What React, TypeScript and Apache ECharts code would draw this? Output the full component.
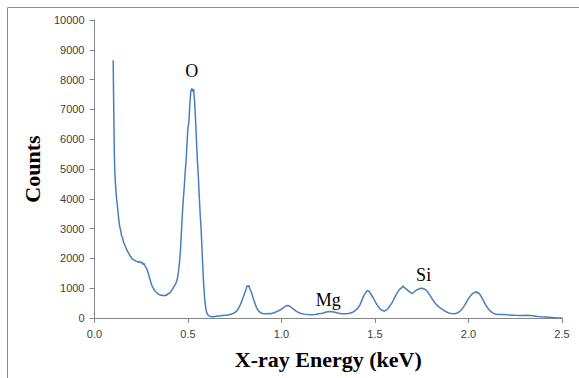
import React, { useEffect, useRef } from "react";
import * as echarts from "echarts";

// Energy (keV) and counts
const energies: number[] = [
  0.1, 0.102, 0.104, 0.106, 0.108, 0.112, 0.116, 0.12, 0.125, 0.13, 0.135, 0.14, 0.145, 0.15, 0.155, 0.16,
  0.165, 0.17, 0.175, 0.18, 0.185, 0.19, 0.195, 0.2, 0.205, 0.21, 0.215, 0.22, 0.225, 0.23, 0.235, 0.24,
  0.245, 0.25, 0.255, 0.26, 0.265, 0.27, 0.275, 0.28, 0.285, 0.29, 0.295, 0.3, 0.305, 0.31, 0.315, 0.32,
  0.325, 0.33, 0.335, 0.34, 0.345, 0.35, 0.355, 0.36, 0.365, 0.37, 0.375, 0.38, 0.385, 0.39, 0.395, 0.4,
  0.405, 0.41, 0.415, 0.42, 0.425, 0.43, 0.435, 0.44, 0.445, 0.45, 0.455, 0.46, 0.465, 0.47, 0.475, 0.48,
  0.485, 0.49, 0.495, 0.5, 0.505, 0.51, 0.515, 0.52, 0.525, 0.53, 0.535, 0.54, 0.545, 0.55, 0.555, 0.56,
  0.565, 0.57, 0.575, 0.58, 0.585, 0.59, 0.595, 0.6, 0.605, 0.61, 0.62, 0.63, 0.64, 0.65, 0.66, 0.67,
  0.68, 0.69, 0.7, 0.71, 0.72, 0.73, 0.74, 0.75, 0.76, 0.77, 0.78, 0.79, 0.8, 0.81, 0.815, 0.82,
  0.825, 0.83, 0.84, 0.85, 0.86, 0.87, 0.88, 0.89, 0.9, 0.91, 0.92, 0.93, 0.94, 0.95, 0.96, 0.97,
  0.98, 0.99, 1.0, 1.01, 1.02, 1.03, 1.04, 1.05, 1.06, 1.07, 1.08, 1.09, 1.1, 1.12, 1.14, 1.16,
  1.18, 1.2, 1.22, 1.24, 1.26, 1.28, 1.3, 1.32, 1.34, 1.36, 1.38, 1.39, 1.4, 1.41, 1.42, 1.43,
  1.44, 1.45, 1.46, 1.465, 1.47, 1.48, 1.49, 1.5, 1.51, 1.52, 1.53, 1.54, 1.55, 1.56, 1.57, 1.58,
  1.59, 1.6, 1.61, 1.62, 1.63, 1.64, 1.65, 1.66, 1.67, 1.68, 1.69, 1.7, 1.71, 1.72, 1.73, 1.74,
  1.75, 1.76, 1.77, 1.78, 1.79, 1.8, 1.81, 1.82, 1.83, 1.84, 1.85, 1.86, 1.87, 1.88, 1.89, 1.9,
  1.91, 1.92, 1.93, 1.94, 1.95, 1.96, 1.97, 1.98, 1.99, 2.0, 2.01, 2.02, 2.03, 2.04, 2.045, 2.05,
  2.06, 2.07, 2.08, 2.09, 2.1, 2.11, 2.12, 2.13, 2.14, 2.15, 2.17, 2.19, 2.21, 2.23, 2.25, 2.27,
  2.29, 2.31, 2.33, 2.35, 2.37, 2.39, 2.41, 2.43, 2.45, 2.47, 2.49, 2.5,
];

const counts: number[] = [
  8650, 7500, 6500, 5600, 5000, 4500, 4150, 3900, 3600, 3300, 3050, 2950, 2750, 2700, 2550, 2480,
  2400, 2330, 2250, 2200, 2150, 2080, 2050, 1990, 1970, 1950, 1930, 1920, 1900, 1890, 1860, 1900,
  1870, 1850, 1880, 1800, 1830, 1750, 1700, 1640, 1560, 1450, 1330, 1230, 1120, 1050, 990, 940,
  900, 870, 840, 810, 790, 775, 760, 770, 750, 760, 745, 770, 760, 790, 830, 820,
  860, 900, 950, 1000, 1060, 1100, 1160, 1250, 1380, 1600, 1900, 2300, 2900, 3500, 4000, 4400,
  4900, 5300, 5900, 6400, 6600, 7200, 7600, 7700, 7600, 7680, 7300, 6700, 6000, 5300, 4800, 4100,
  3500, 3000, 2300, 1600, 1000, 580, 330, 180, 120, 80, 50, 40, 45, 60, 65, 70,
  80, 85, 90, 95, 110, 125, 150, 180, 230, 320, 450, 600, 780, 950, 1080, 1060,
  1090, 1000, 850, 640, 450, 300, 220, 170, 150, 145, 140, 150, 145, 160, 175, 200,
  230, 260, 300, 350, 390, 420, 410, 370, 320, 270, 220, 190, 160, 130, 115, 110,
  120, 140, 160, 200, 220, 200, 165, 140, 140, 150, 190, 230, 280, 340, 450, 600,
  750, 850, 920, 910, 880, 780, 680, 560, 450, 360, 290, 250, 235, 260, 320, 410,
  500, 620, 740, 860, 950, 1000, 1070, 1000, 960, 900, 850, 820, 880, 930, 960, 990,
  1000, 980, 950, 890, 800, 700, 600, 510, 440, 380, 330, 290, 250, 210, 180, 160,
  150, 145, 150, 170, 200, 260, 340, 430, 540, 650, 740, 810, 850, 880, 840, 860,
  800, 700, 580, 460, 360, 280, 210, 170, 140, 125, 115, 120, 105, 95, 90, 88,
  85, 90, 80, 65, 50, 40, 35, 25, 15, 8, 3, 0,
];

const peakLabels: { text: string; x: number; y: number }[] = [
  { text: "O", x: 0.52, y: 8300 },
  { text: "Mg", x: 1.25, y: 600 },
  { text: "Si", x: 1.76, y: 1450 },
];

const xTitle = "X-ray Energy (keV)";
const yTitle = "Counts";

export default function App() {
  const ref = useRef<HTMLDivElement>(null);

  useEffect(() => {
    if (!ref.current) return;
    const chart = echarts.init(ref.current, undefined, { renderer: "svg" });
    const data = energies.map((e, i) => [e, counts[i]]);

    const option: any = {
      animation: false,
      backgroundColor: "#ffffff",
      grid: { left: 94.5, right: 17, top: 20, bottom: 60, containLabel: false },
      xAxis: {
        type: "value",
        min: 0,
        max: 2.5,
        interval: 0.5,
        name: xTitle,
        nameLocation: "middle",
        nameGap: 30,
        nameTextStyle: {
          fontFamily: "Liberation Serif",
          fontWeight: "bold",
          fontSize: 22,
          color: "#000000",
        },
        axisLine: { show: true, onZero: false, lineStyle: { color: "#868686", width: 1 } },
        axisTick: { show: true, inside: false, length: 5, lineStyle: { color: "#868686" } },
        splitLine: { show: false },
        axisLabel: {
          margin: 10,
          fontFamily: "Liberation Sans",
          fontSize: 11,
          color: "#404040",
          formatter: (v: number) => v.toFixed(1),
        },
      },
      yAxis: {
        type: "value",
        min: 0,
        max: 10000,
        interval: 1000,
        name: yTitle,
        nameLocation: "middle",
        nameGap: 50,
        nameRotate: 90,
        nameTextStyle: {
          fontFamily: "Liberation Serif",
          fontWeight: "bold",
          fontSize: 22,
          color: "#000000",
        },
        axisLine: { show: true, lineStyle: { color: "#868686", width: 1 } },
        axisTick: { show: true, inside: false, length: 5, lineStyle: { color: "#868686" } },
        splitLine: { show: false },
        axisLabel: {
          margin: 10,
          fontFamily: "Liberation Sans",
          fontSize: 11,
          color: "#404040",
          formatter: (v: number) => String(v),
        },
      },
      series: [
        {
          type: "line",
          data,
          showSymbol: false,
          symbol: "none",
          smooth: false,
          lineStyle: { color: "#4A7EBB", width: 1.5 },
          markPoint: {
            symbol: "rect",
            symbolSize: 1,
            itemStyle: { color: "transparent" },
            label: {
              show: true,
              position: "inside",
              fontFamily: "Liberation Serif",
              fontSize: 18,
              color: "#000000",
              formatter: (p: any) => p.name,
            },
            data: peakLabels.map((p) => ({ name: p.text, coord: [p.x, p.y] })),
          },
        },
      ],
      graphic: [
        {
          type: "line",
          shape: { x1: 7.5, y1: 7.5, x2: 579, y2: 7.5 },
          style: { stroke: "#8c8c8c", lineWidth: 1 },
        },
        {
          type: "line",
          shape: { x1: 7.5, y1: 7.5, x2: 7.5, y2: 378 },
          style: { stroke: "#8c8c8c", lineWidth: 1 },
        },
      ],
    };

    chart.setOption(option);
    return () => chart.dispose();
  }, []);

  return (
    <div
      ref={ref}
      style={{ position: "absolute", left: 0, top: 0, width: 579, height: 378 }}
    />
  );
}
